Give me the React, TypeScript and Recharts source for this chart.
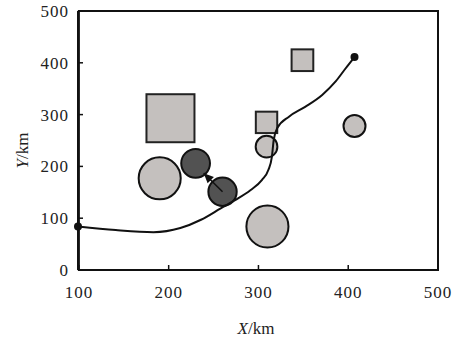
import {
  ComposedChart,
  Scatter,
  Line,
  XAxis,
  YAxis,
  ZAxis,
  ReferenceArea,
} from "recharts";

// ---- data (km) ----
const xTicks = [100, 200, 300, 400, 500];
const yTicks = [0, 100, 200, 300, 400, 500];

// trajectory
const trackX = [99, 141, 183, 213, 236, 258, 274, 291, 304, 311, 315, 317, 321, 334, 352, 371, 386, 397, 407];
const trackY = [84, 77, 73, 81, 97, 119, 135, 154, 174, 193, 219, 251, 274, 296, 315, 338, 364, 389, 411];

// light grey circles
const lightX = [190, 310, 309, 407];
const lightY = [177, 84, 238, 278];
const lightZ = [13.9, 13.9, 3.7, 3.8];

// dark circles
const darkX = [230, 260];
const darkY = [206, 151];
const darkZ = [6.5, 6.3];

// squares
const squareX = [202, 309, 349];
const squareY = [293, 285, 405];
const squareZ = [18.1, 3.6, 3.7];

// arrow (from -> to)
const arrowX = [260, 239];
const arrowY = [151, 187];

const zip = (xs: number[], ys: number[], zs?: number[]) =>
  xs.map((x, i) => ({ x, y: ys[i], z: zs ? zs[i] : 1 }));

const track = zip(trackX, trackY);
const ends = [track[0], track[track.length - 1]];
const lights = zip(lightX, lightY, lightZ);
const darks = zip(darkX, darkY, darkZ);
const squares = zip(squareX, squareY, squareZ);
const arrow = zip(arrowX, arrowY);

const FONT = "'Liberation Serif', 'Times New Roman', serif";
const tickStyle = { fill: "#222", fontFamily: FONT, fontSize: 17, letterSpacing: 1 };

const radiusOf = (p: any) =>
  p.width ? p.width / 2 : Math.sqrt(Math.max(p.size || 0, 0) / Math.PI);

function CircleShape(fill: string) {
  return (p: any) => (
    <circle cx={p.cx} cy={p.cy} r={radiusOf(p)} fill={fill} stroke="#111" strokeWidth={2} />
  );
}

function SquareShape(p: any) {
  const r = radiusOf(p);
  return (
    <rect x={p.cx - r} y={p.cy - r} width={2 * r} height={2 * r} fill="#c4c0be" stroke="#222" strokeWidth={2} />
  );
}

function DotShape(p: any) {
  return <circle cx={p.cx} cy={p.cy} r={4} fill="#111" />;
}

// arrow head drawn at the second point, pointing away from the first
let arrowStart: { cx: number; cy: number } | null = null;
function ArrowDot(p: any) {
  if (p.index === 0) {
    arrowStart = { cx: p.cx, cy: p.cy };
    return <g key="arrow-0" />;
  }
  const s = arrowStart || { cx: p.cx + 10, cy: p.cy + 10 };
  const a = Math.atan2(p.cy - s.cy, p.cx - s.cx);
  const len = 10;
  const w = 4.5;
  const bx = p.cx - len * Math.cos(a);
  const by = p.cy - len * Math.sin(a);
  const px = -Math.sin(a) * w;
  const py = Math.cos(a) * w;
  return (
    <polygon
      key="arrow-1"
      points={`${p.cx},${p.cy} ${bx + px},${by + py} ${bx - px},${by - py}`}
      fill="#111"
    />
  );
}

function YLabel({ viewBox }: any) {
  const cx = viewBox.x + 22;
  const cy = viewBox.y + viewBox.height / 2 + 10;
  return (
    <text
      x={cx}
      y={cy}
      transform={`rotate(-90 ${cx} ${cy})`}
      textAnchor="middle"
      dominantBaseline="central"
      fontFamily={FONT}
      fontSize={17}
      fill="#222"
    >
      <tspan fontStyle="italic">Y</tspan>/km
    </text>
  );
}

function XLabel({ viewBox }: any) {
  const cx = viewBox.x + viewBox.width / 2 - 2;
  const cy = viewBox.y + 58;
  return (
    <text x={cx} y={cy} textAnchor="middle" dominantBaseline="central" fontFamily={FONT} fontSize={17} fill="#222">
      <tspan fontStyle="italic">X</tspan>/km
    </text>
  );
}

export default function App() {
  return (
    <div style={{ position: "absolute", left: 0, top: 0, background: "#fff" }}>
      <ComposedChart width={457} height={342} margin={{ top: 11, right: 19, left: 0, bottom: 0 }}>
        <XAxis
          type="number"
          dataKey="x"
          domain={[100, 500]}
          ticks={xTicks}
          height={72}
          tick={tickStyle}
          tickSize={-5}
          tickMargin={21}
          axisLine={{ stroke: "#111", strokeWidth: 2 }}
          tickLine={{ stroke: "#111", strokeWidth: 1.5 }}
          label={XLabel}
        />
        <YAxis
          type="number"
          dataKey="y"
          domain={[0, 500]}
          ticks={yTicks}
          width={78}
          tick={tickStyle}
          tickSize={-5}
          tickMargin={14}
          axisLine={{ stroke: "#111", strokeWidth: 2 }}
          tickLine={{ stroke: "#111", strokeWidth: 1.5 }}
          label={YLabel}
        />
        <ZAxis type="number" dataKey="z" domain={[0, 20]} range={[0, 2000]} />
        <ReferenceArea x1={100} x2={500} y1={0} y2={500} fill="none" stroke="#111" strokeWidth={2} strokeOpacity={1} />
        <Scatter data={squares} shape={SquareShape} isAnimationActive={false} />
        <Scatter data={lights} shape={CircleShape("#c4c0be")} isAnimationActive={false} />
        <Scatter data={darks} shape={CircleShape("#525252")} isAnimationActive={false} />
        <Line
          data={track}
          dataKey="y"
          type="monotone"
          stroke="#111"
          strokeWidth={2}
          dot={false}
          activeDot={false}
          isAnimationActive={false}
          zIndex={700}
        />
        <Line
          data={arrow}
          dataKey="y"
          type="linear"
          stroke="#111"
          strokeWidth={1.5}
          dot={ArrowDot}
          activeDot={false}
          isAnimationActive={false}
          zIndex={700}
        />
        <Scatter data={ends} shape={DotShape} isAnimationActive={false} zIndex={800} />
      </ComposedChart>
    </div>
  );
}
